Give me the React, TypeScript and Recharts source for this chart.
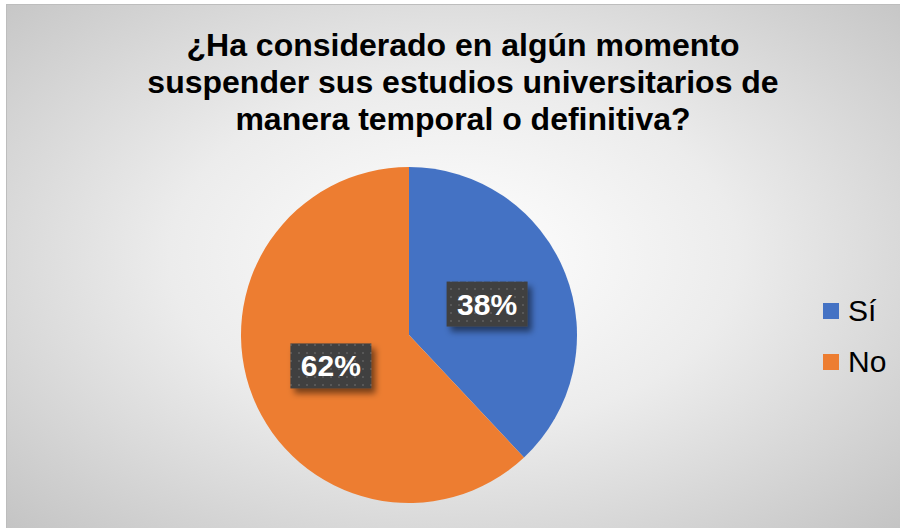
import React from 'react';
import { PieChart, Pie, Cell, Legend } from 'recharts';

const categories = ['Sí', 'No'];
const values = [38, 62];
const colors = ['#4472C4', '#ED7D31'];
const titleLines = [
  '¿Ha considerado en algún momento',
  'suspender sus estudios universitarios de',
  'manera temporal o definitiva?'
];

const data = categories.map((name, i) => ({ name, value: values[i] }));

const FONT = '"Liberation Sans", Arial, sans-serif';
const RAD = Math.PI / 180;

const renderLabel = (props: any) => {
  const { cx, cy, midAngle, outerRadius, percent, index } = props;
  const r = outerRadius * 0.5;
  const x = cx + r * Math.cos(-midAngle * RAD);
  const y = cy + r * Math.sin(-midAngle * RAD);
  const w = 81;
  const h = 45;
  return (
    <g key={'lbl' + index}>
      <defs>
        <pattern id={'dots' + index} width="8" height="8" patternUnits="userSpaceOnUse">
          <rect width="8" height="8" fill="#404040" />
          <rect x="3" y="3" width="2" height="2" fill="#585858" />
        </pattern>
        <filter id={'shadow' + index} x="-20%" y="-20%" width="150%" height="160%">
          <feDropShadow dx="4" dy="5" stdDeviation="3" floodColor="#000" floodOpacity="0.5" />
        </filter>
      </defs>
      <rect
        x={x - w / 2}
        y={y - h / 2}
        width={w}
        height={h}
        fill={'url(#dots' + index + ')'}
        filter={'url(#shadow' + index + ')'}
      />
      <text
        x={x}
        y={y}
        textAnchor="middle"
        dominantBaseline="central"
        fill="#fff"
        fontFamily={FONT}
        fontWeight="bold"
        fontSize={30}
      >
        {Math.round(percent * 100)}%
      </text>
    </g>
  );
};

const renderLegend = () => (
  <div>
    {categories.map((name, i) => (
      <div key={name} style={{ display: 'flex', alignItems: 'center', height: 51 }}>
        <span style={{ width: 16, height: 16, background: colors[i], display: 'inline-block' }} />
        <span style={{ marginLeft: 9, fontFamily: FONT, fontSize: 30, color: '#000' }}>{name}</span>
      </div>
    ))}
  </div>
);

export default function App() {
  return (
    <div
      style={{
        position: 'absolute',
        left: 6,
        top: 4,
        width: 894,
        height: 524,
        boxSizing: 'border-box',
        borderLeft: '1px solid #bdbdbd',
        borderTop: '1px solid #bdbdbd',
        background:
          'radial-gradient(ellipse farthest-corner at 50% 48%, #ffffff 0%, #ececec 45%, #c4c4c4 100%)'
      }}
    >
      <div
        style={{
          position: 'absolute',
          left: 30,
          top: 22,
          width: 852,
          textAlign: 'center',
          fontFamily: FONT,
          fontWeight: 'bold',
          fontSize: 32,
          lineHeight: '37px',
          color: '#000'
        }}
      >
        {titleLines.map((t, i) => (
          <div key={i}>{t}</div>
        ))}
      </div>
      <PieChart width={893} height={523} style={{ position: 'absolute', left: 0, top: 0 }}>
        <Pie
          data={data}
          dataKey="value"
          nameKey="name"
          cx={397}
          cy={325}
          outerRadius={168}
          startAngle={90}
          endAngle={-270}
          stroke="none"
          label={renderLabel}
          labelLine={false}
          isAnimationActive={false}
        >
          {data.map((d, i) => (
            <Cell key={d.name} fill={colors[i]} />
          ))}
        </Pie>
        <Legend
          content={renderLegend}
          wrapperStyle={{ position: 'absolute', left: 816, top: 280, width: 80, bottom: 'auto' }}
        />
      </PieChart>
    </div>
  );
}
